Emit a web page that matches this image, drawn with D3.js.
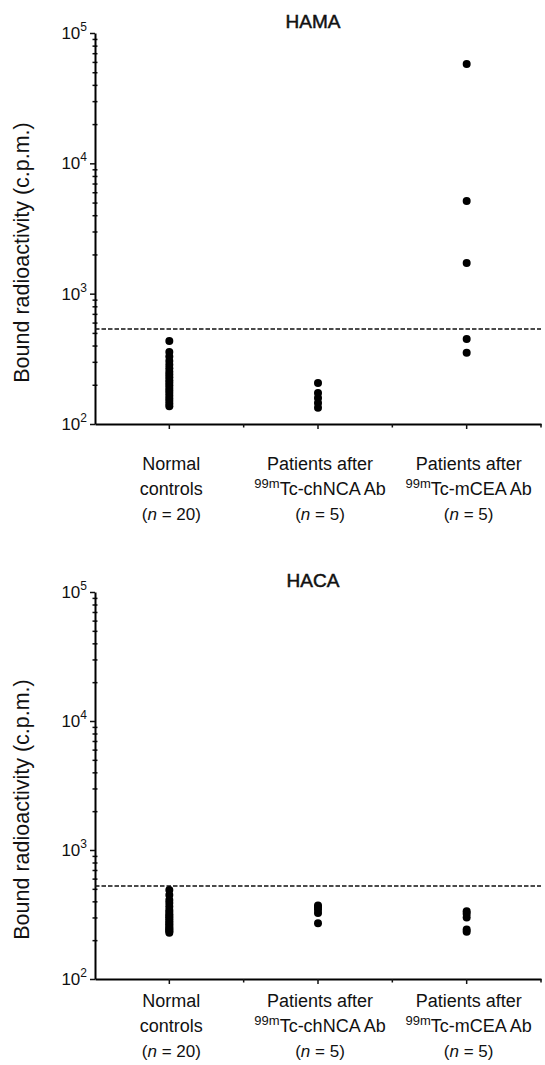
<!DOCTYPE html>
<html>
<head>
<meta charset="utf-8">
<script src="https://cdn.jsdelivr.net/npm/d3@7"></script>
<style>
  body { margin: 0; background: #fff; }
  text { font-family: "Liberation Sans", Arial, sans-serif; fill: #111; }
</style>
</head>
<body>
<script>
//Chart Size
var svgWidth = 545;
var svgHeight = 1065;

//Categories (three lines each, middle line has a superscript prefix)
var groups = ['normal', 'chNCA', 'mCEA'];
var labelLine1 = ['Normal', 'Patients after', 'Patients after'];
var labelSup = ['', '99m', '99m'];
var labelLine2 = ['controls', 'Tc-chNCA Ab', 'Tc-mCEA Ab'];
var labelN = ['20', '5', '5'];

//Y Tick Exponents
var decades = [2, 3, 4, 5];

//HAMA Values (c.p.m.)
var hamaNormal = [434, 357, 330, 305, 285, 268, 252, 240, 228, 217, 207, 198, 189, 181, 173, 165, 157, 150, 143, 137];
var hamaChNCA = [206, 173, 158, 145, 133];
var hamaMCEA = [57900, 5140, 1720, 449, 352];
var hamaCutoff = 535;

//HACA Values (c.p.m.)
var hacaNormal = [490, 448, 410, 388, 365, 343, 330, 318, 308, 300, 290, 280, 272, 265, 258, 250, 244, 240, 234, 228];
var hacaChNCA = [372, 360, 345, 325, 270];
var hacaMCEA = [335, 320, 300, 242, 232];
var hacaCutoff = 526;

var svg = d3.select('body')
    .append('svg')
    .attr('width', svgWidth)
    .attr('height', svgHeight);

function drawPanel(title, values, cutoff, yTop, yBottom, labelOffsets) {
    var g = svg.append('g');

    //Scales
    var xScale = d3.scaleBand()
        .domain(groups)
        .range([95, 541]);
    var yScale = d3.scaleLog()
        .domain([100, 100000])
        .range([yBottom, yTop]);

    //Title
    g.append('text')
        .attr('x', 313)
        .attr('y', yTop - 5)
        .attr('text-anchor', 'middle')
        .attr('font-size', '19px')
        .attr('stroke', '#111')
        .attr('stroke-width', 0.5)
        .text(title);

    //Minor Y Ticks
    var minorTicks = [];
    decades.slice(0, 3).forEach(function(e) {
        d3.range(2, 10).forEach(function(m) { minorTicks.push(m * Math.pow(10, e)); });
    });
    g.append('g')
        .attr('transform', 'translate(97.5, 0)')
        .call(d3.axisLeft(yScale).tickValues(minorTicks).tickSize(5).tickFormat(''))
        .call(function(a) { a.select('.domain').remove(); });

    //Major Y Ticks and Axis Line
    var yAxis = g.append('g')
        .attr('transform', 'translate(95, 0)')
        .call(d3.axisLeft(yScale)
            .tickValues(decades.map(function(e) { return Math.pow(10, e); }))
            .tickSize(5)
            .tickSizeOuter(0)
            .tickFormat(''));
    yAxis.select('.domain').attr('stroke-width', 2);

    //Y Tick Labels as 10 with Superscript
    decades.forEach(function(e) {
        var t = g.append('text')
            .attr('x', 87)
            .attr('y', yScale(Math.pow(10, e)) + 6)
            .attr('text-anchor', 'end')
            .attr('font-size', '17px');
        t.append('tspan').text('10');
        t.append('tspan').attr('dy', -8).attr('font-size', '12px').text(e);
    });

    //Y Axis Title
    g.append('text')
        .attr('transform', 'translate(29, ' + ((yTop + yBottom) / 2 + 24) + ') rotate(-90)')
        .attr('text-anchor', 'middle')
        .attr('font-size', '21.5px')
        .text('Bound radioactivity (c.p.m.)');

    //X Axis with Category Ticks
    var xAxis = g.append('g')
        .attr('transform', 'translate(0, ' + yBottom + ')')
        .call(d3.axisBottom(xScale).tickSize(5).tickSizeOuter(0).tickFormat(''));
    xAxis.select('.domain').attr('stroke-width', 2);

    //Minor X Ticks at Band Edges
    var edges = groups.slice(1).map(function(d) { return xScale(d); }).concat([xScale.range()[1]]);
    g.selectAll('.xminor')
        .data(edges)
        .enter()
        .append('line')
        .attr('x1', d => d)
        .attr('x2', d => d)
        .attr('y1', yBottom)
        .attr('y2', yBottom + 3.5)
        .attr('stroke', '#111')
        .attr('stroke-width', 1.5);

    g.selectAll('.tick line').attr('stroke', '#111').attr('stroke-width', 1.5);

    //Category Labels
    groups.forEach(function(d, i) {
        var cx = xScale(d) + xScale.bandwidth() / 2 + 2;
        g.append('text')
            .attr('x', cx)
            .attr('y', yBottom + labelOffsets[0])
            .attr('text-anchor', 'middle')
            .attr('font-size', '18px')
            .text(labelLine1[i]);
        var t2 = g.append('text')
            .attr('x', cx)
            .attr('y', yBottom + labelOffsets[1])
            .attr('text-anchor', 'middle')
            .attr('font-size', '18px');
        if (labelSup[i]) {
            t2.append('tspan').attr('font-size', '13px').attr('dy', -7).text(labelSup[i]);
            t2.append('tspan').attr('dy', 7).text(labelLine2[i]);
        } else {
            t2.text(labelLine2[i]);
        }
        var t3 = g.append('text')
            .attr('x', cx)
            .attr('y', yBottom + labelOffsets[2])
            .attr('text-anchor', 'middle')
            .attr('font-size', '17px');
        t3.append('tspan').text('(');
        t3.append('tspan').attr('font-style', 'italic').text('n');
        t3.append('tspan').text(' = ' + labelN[i] + ')');
    });

    //Cutoff Line
    g.append('line')
        .attr('x1', xScale.range()[0])
        .attr('x2', xScale.range()[1])
        .attr('y1', yScale(cutoff))
        .attr('y2', yScale(cutoff))
        .attr('stroke', '#111')
        .attr('stroke-width', 1.5)
        .attr('stroke-dasharray', '4.5,2');

    //Dots
    groups.forEach(function(d, i) {
        g.selectAll('.dot-' + d)
            .data(values[i])
            .enter()
            .append('circle')
            .attr('cx', xScale(d) + xScale.bandwidth() / 2)
            .attr('cy', v => yScale(v))
            .attr('r', 4)
            .attr('fill', '#000');
    });
}

drawPanel('HAMA', [hamaNormal, hamaChNCA, hamaMCEA], hamaCutoff, 33, 424, [46, 71, 96]);
drawPanel('HACA', [hacaNormal, hacaChNCA, hacaMCEA], hacaCutoff, 592, 979, [28, 53, 78]);
</script>
</body>
</html>
